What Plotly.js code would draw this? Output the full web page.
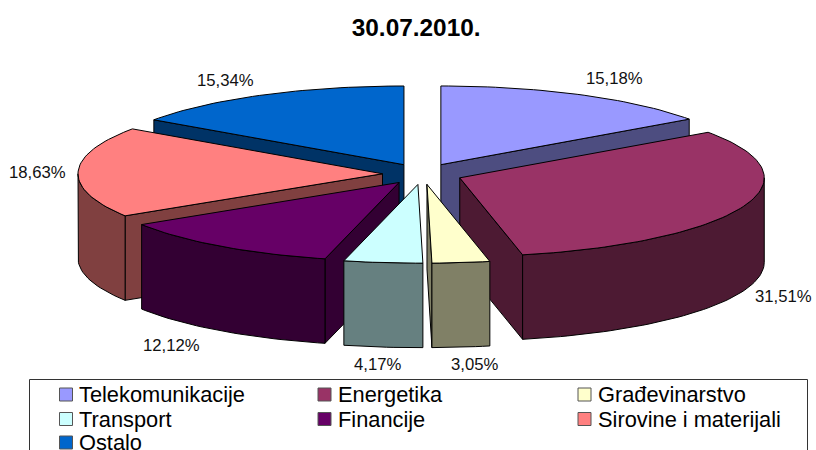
<!DOCTYPE html>
<html>
<head>
<meta charset="utf-8">
<script src="https://cdn.plot.ly/plotly-3.0.1.min.js"></script>
<style>html,body{margin:0;padding:0;background:#fff}#c{width:816px;height:450px}</style>
</head>
<body>
<div id="c"></div>
<script>
// Data
var categories = ['Telekomunikacije','Energetika','Građevinarstvo','Transport','Financije','Sirovine i materijali','Ostalo'];
var values = [15.18,31.51,3.05,4.17,12.12,18.63,15.34];
var valueLabels = ['15,18%','31,51%','3,05%','4,17%','12,12%','18,63%','15,34%'];
var topColors = ['#9999ff','#993366','#ffffcc','#ccffff','#660066','#ff8080','#0066cc'];
var wallColors = ['#4d4d80','#4d1a33','#808066','#668080','#330033','#804040','#003366'];
// Painter's order of the slices, back to front
var paintOrder = [6,0,5,1,4,3,2];
// Label and legend placement
var labelX = [614,783,474,377,171,37,225];
var labelY = [78,296,364,364,345,172,80];
var legendCols = [59.5,318,578];
var legendRows = [394.5,419,442.5];

// Pie geometry in page pixels
var cx=422.5, cy=174, explodeX=40, explodeY=10.5, rx=304.5, ry=78.7, depth=84.5;
var total = values.reduce(function(a,b){return a+b;},0);
var traces = [];
function pt(ax,ay,deg,dz){
  var r=deg*Math.PI/180;
  return [ax+rx*Math.sin(r), ay-ry*Math.cos(r)+(dz||0)];
}
function arcPts(ax,ay,a0,a1,dz){
  var out=[], n=Math.max(2,Math.ceil((a1-a0)/1.5));
  for(var i=0;i<=n;i++) out.push(pt(ax,ay,a0+(a1-a0)*i/n,dz));
  return out;
}
function poly(pts,color,extra){
  var t={type:'scatter',mode:'lines',x:pts.map(function(p){return p[0];}),y:pts.map(function(p){return p[1];}),
    fill:'toself',fillcolor:color,line:{color:'#000',width:1},hoverinfo:'skip',showlegend:false};
  if(extra) for(var k in extra) t[k]=extra[k];
  traces.push(t);
}
var starts=[], acc=0;
values.forEach(function(v){starts.push(acc); acc+=v;});
paintOrder.forEach(function(i){
  var a0=starts[i]/total*360, a1=(starts[i]+values[i])/total*360, mid=(a0+a1)/2, m=mid*Math.PI/180;
  var ax=cx+explodeX*Math.sin(m), ay=cy-explodeY*Math.cos(m);
  var p0=pt(ax,ay,a0), p1=pt(ax,ay,a1), w=wallColors[i];
  // cut faces, only those that face the viewer
  if(Math.sin(a0*Math.PI/180)<-1e-6) poly([[ax,ay],p0,[p0[0],p0[1]+depth],[ax,ay+depth],[ax,ay]],w);
  if(Math.sin(a1*Math.PI/180)>1e-6) poly([[ax,ay],p1,[p1[0],p1[1]+depth],[ax,ay+depth],[ax,ay]],w);
  // outer wall: only the part of the arc that faces the viewer
  var f0=Math.max(a0,90), f1=Math.min(a1,270);
  if(f1>f0){
    var top=arcPts(ax,ay,f0,f1,0), bot=arcPts(ax,ay,f0,f1,depth).reverse();
    var wall=top.concat(bot); wall.push(top[0]);
    poly(wall,w);
  }
  // top face
  var face=[[ax,ay]].concat(arcPts(ax,ay,a0,a1,0)); face.push([ax,ay]);
  poly(face,topColors[i],{name:categories[i]});
});

// Legend swatches
var annotations=[];
categories.forEach(function(c,i){
  var col=i%3,row=Math.floor(i/3);
  traces.push({type:'scatter',mode:'markers',x:[legendCols[col]+6.5],y:[legendRows[row]],
    marker:{symbol:'square',size:13,color:topColors[i],line:{color:'#555',width:1}},hoverinfo:'skip',showlegend:false});
  annotations.push({xref:'x',yref:'y',x:legendCols[col]+18.5,y:legendRows[row],xanchor:'left',yanchor:'middle',showarrow:false,
    text:c,font:{family:'Liberation Sans',size:21.8,color:'#000'},borderpad:0});
  annotations.push({xref:'x',yref:'y',x:labelX[i],y:labelY[i],xanchor:'center',yanchor:'middle',showarrow:false,
    text:valueLabels[i],font:{family:'Liberation Sans',size:16.7,color:'#111'},borderpad:0});
});

var layout={
  width:816,height:450,margin:{l:0,r:0,t:0,b:0},paper_bgcolor:'#fff',plot_bgcolor:'#fff',showlegend:false,
  title:{text:'30.07.2010.',font:{family:'Liberation Sans',size:24.4,color:'#000',weight:'bold'},x:0.51,xanchor:'center',y:0.938,yanchor:'middle'},
  xaxis:{range:[0,816],visible:false,fixedrange:true},
  yaxis:{range:[450,0],visible:false,fixedrange:true},
  annotations:annotations,
  shapes:[{type:'rect',xref:'x',yref:'y',x0:29.5,x1:807.5,y0:379.5,y1:470,line:{color:'#333',width:1},fillcolor:'rgba(0,0,0,0)',layer:'below'}]
};
Plotly.newPlot('c',traces,layout,{displayModeBar:false,staticPlot:true});
</script>
</body>
</html>
